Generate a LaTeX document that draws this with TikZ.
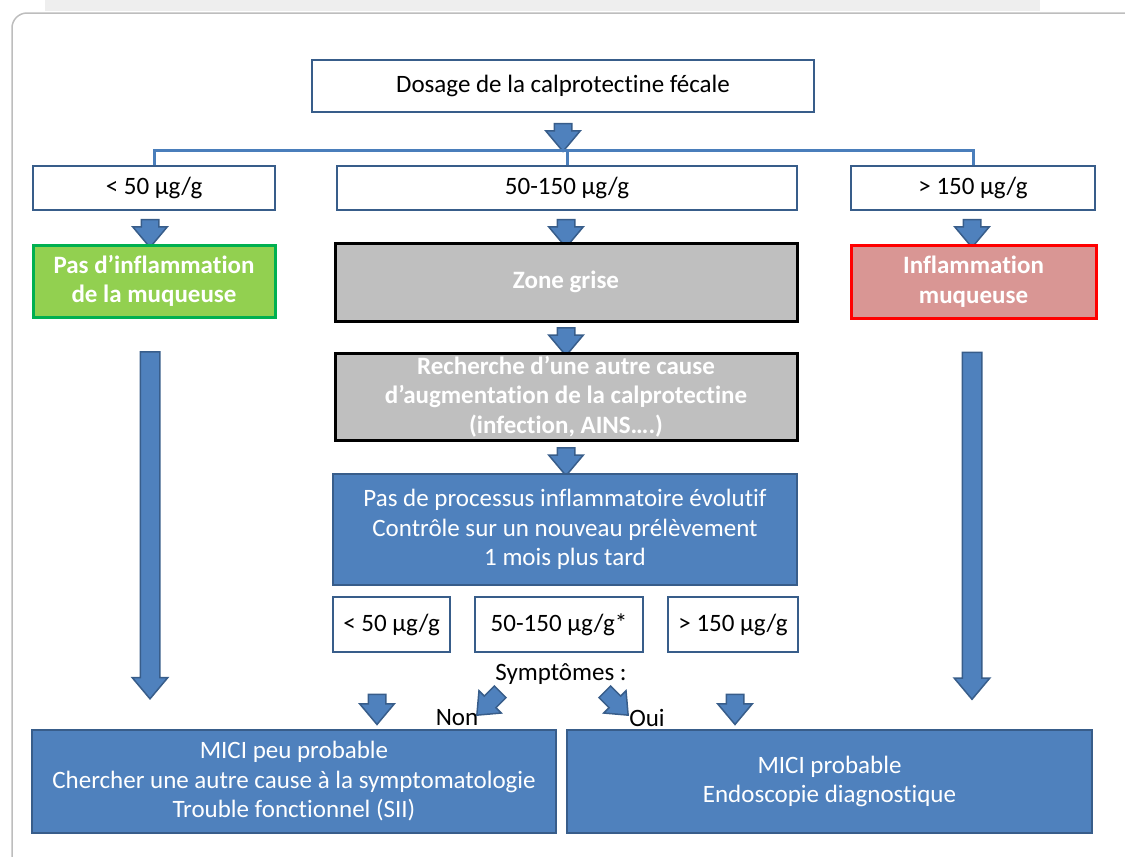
\documentclass[tikz,border=0pt]{standalone}
\usepackage{fontspec}
\setmainfont{Carlito}[Ligatures={NoCommon}]
\usetikzlibrary{shapes.arrows, calc, positioning}

\definecolor{boxblue}{HTML}{4F81BD}
\definecolor{boxline}{HTML}{385D8A}
\definecolor{busblue}{HTML}{4A7EBB}
\definecolor{okgreen}{HTML}{92D050}
\definecolor{okgreenline}{HTML}{00B050}
\definecolor{badred}{HTML}{D99694}
\definecolor{greyfill}{HTML}{BFBFBF}
\definecolor{stripgrey}{HTML}{EEEEEE}
\definecolor{framegrey}{HTML}{BDBDBD}

\begin{document}
\begin{tikzpicture}[x=1pt, y=-1pt, font=\fontsize{25}{29.5}\selectfont,
  box/.style={draw=boxline, line width=2.5pt, fill=white, align=center, inner sep=0pt},
  bluebox/.style={box, fill=boxblue, text=white},
  boldbox/.style={box, line width=3pt, text=white, font=\fontsize{25}{29.5}\selectfont\bfseries},
  greybox/.style={boldbox, draw=black, fill=greyfill},
  blockarrow/.style={single arrow, draw=boxline, fill=boxblue, line width=1.5pt,
    inner sep=8pt, single arrow head extend=8.5pt,
    single arrow tip angle=80, minimum height=27pt, rotate=-90},
  link/.style={busblue, line width=3pt}]
  \useasboundingbox (0,0) rectangle (1125,857);
  % page frame
  \fill[stripgrey] (45,0) rectangle (1040,11);
  \draw[framegrey, line width=1.5pt, rounded corners=15pt] (12,880) -- (12,13) -- (1150,13);

  \node[box, minimum width=502pt, minimum height=52pt] (dosage) at (563,86) {Dosage de la calprotectine fécale};
  \node[blockarrow] (a0) at ($(dosage.south)+(0,19)$) {};

  % first results
  \node[box, minimum width=242pt, minimum height=44pt] (low) at (154,188) {< 50 µg/g};
  \node[box, minimum width=460pt, minimum height=44pt] (mid) at (567,188) {50-150 µg/g};
  \node[box, minimum width=244pt, minimum height=44pt] (high) at (973,188) {> 150 µg/g};
  \draw[link] (low.north) -- ++(0,-14) -| (high.north);
  \draw[link] (mid.north) -- ++(0,-14);

  \node[blockarrow] (a1) at ($(low.south)+(-4,17)$) {};
  \node[blockarrow] (a2) at ($(mid.south)+(-1,17)$) {};
  \node[blockarrow] (a3) at ($(high.south)+(-1,17)$) {};

  \node[boldbox, draw=okgreenline, fill=okgreen,
    minimum width=242pt, minimum height=72pt] (nonin) at (154,281) {Pas d’inflammation\\de la muqueuse};
  \node[greybox, minimum width=462pt, minimum height=78pt] (grise) at (566,282) {Zone grise};
  \node[boldbox, draw=red, fill=badred,
    minimum width=245pt, minimum height=73pt] (infl) at (973.5,281.5) {Inflammation\\muqueuse};

  \node[blockarrow] (a4) at ($(grise.south)+(0,14)$) {};
  \node[greybox, minimum width=462pt, minimum height=87pt] (cause) at (566,396.5)
    {Recherche d’une autre cause\\d’augmentation de la calprotectine\\(infection, AINS….)};
  \node[blockarrow] (a5) at ($(cause.south)+(0,15)$) {};

  \node[bluebox, minimum width=464pt, minimum height=111pt] (ctrl) at (565,529.5)
    {Pas de processus inflammatoire évolutif\\Contrôle sur un nouveau prélèvement\\1 mois plus tard};

  % second results
  \node[box, minimum width=117pt, minimum height=55pt] (low2) at (391.5,624.5) {< 50 µg/g};
  \node[box, minimum width=168pt, minimum height=55pt] (mid2) at (559,624.5) {50-150 µg/g*};
  \node[box, minimum width=130pt, minimum height=55pt] (high2) at (733,624.5) {> 150 µg/g};

  \node (sympt) at ($(mid2.south)+(2,21)$) {Symptômes :};
  \node (non) at (457,718) {Non};
  \node (oui) at (647,718) {Oui};

  \node[blockarrow, minimum height=347pt, inner sep=9pt, single arrow head extend=8pt]
    (longl) at ($(nonin.south)+(-4,201)$) {};
  \node[blockarrow, minimum height=347pt, inner sep=9pt, single arrow head extend=8pt]
    (longr) at ($(infl.south)+(-1.5,200.5)$) {};
  \node[blockarrow, minimum height=30pt] (b1) at ($(low2.south)+(-14.5,51)$) {};
  \node[blockarrow, minimum height=30pt] (b2) at ($(high2.south)+(2,51)$) {};
  \node[blockarrow, minimum height=33pt, inner sep=7.5pt, single arrow head extend=7.5pt, rotate=-45]
    (bnon) at (492,700) {};
  \node[blockarrow, minimum height=33pt, inner sep=7.5pt, single arrow head extend=7.5pt, rotate=45]
    (boui) at (613,700) {};

  % conclusions
  \node[bluebox, minimum width=524pt, minimum height=103pt] (peu) at (294,781.5)
    {MICI peu probable\\Chercher une autre cause à la symptomatologie\\Trouble fonctionnel (SII)};
  \node[bluebox, minimum width=525pt, minimum height=103pt] (prob) at (829.5,781.5)
    {MICI probable\\Endoscopie diagnostique};
\end{tikzpicture}
\end{document}
